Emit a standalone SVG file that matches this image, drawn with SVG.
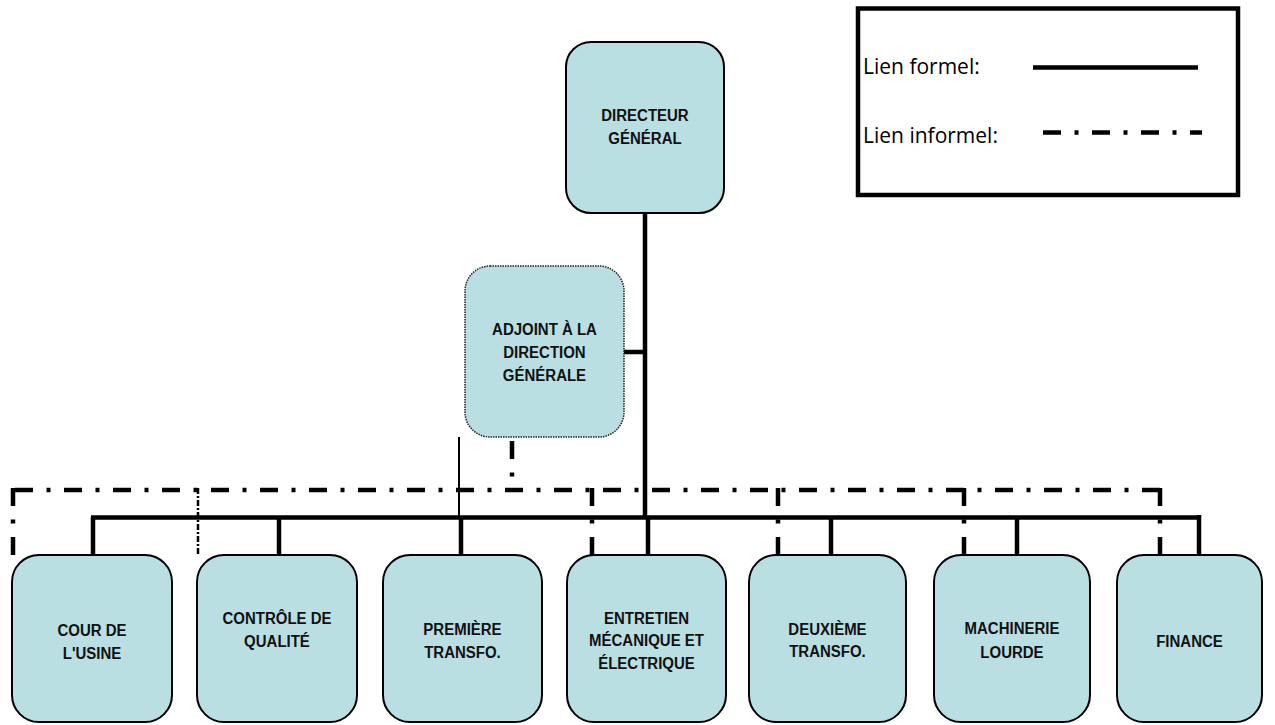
<svg xmlns="http://www.w3.org/2000/svg" width="1275" height="725" viewBox="0 0 1275 725">
<style>
.box{fill:#B9DFE3;stroke:#000;stroke-width:2}
.adj{fill:#B9DFE3;stroke:#222;stroke-width:1.5;stroke-dasharray:1.5 1}
.lbl{font-family:"Liberation Sans",Arial,sans-serif;font-weight:bold;font-size:15px;fill:#111;text-anchor:middle;transform-box:fill-box;transform-origin:center;transform:scaleY(1.12)}
.leg{font-family:"Open Sans","Liberation Sans",sans-serif;font-size:21px;fill:#000}
.formal{stroke:#000;stroke-width:4.5;fill:none}
.informal{stroke:#000;stroke-width:4.5;fill:none;stroke-dasharray:18 13.5 4 13.5}
.thin{stroke:#000;stroke-width:2;fill:none}
</style>
<rect width="1275" height="725" fill="#fff"/>
<g id="connectors">
  <line class="formal" x1="645" y1="213" x2="645" y2="519"/>
  <line class="formal" x1="624" y1="352" x2="645" y2="352"/>
  <line class="formal" x1="91" y1="517.5" x2="1201" y2="517.5"/>
  <line class="formal" x1="93" y1="517" x2="93" y2="555"/>
  <line class="formal" x1="279" y1="517" x2="279" y2="555"/>
  <line class="formal" x1="461" y1="517" x2="461" y2="555"/>
  <line class="formal" x1="648" y1="517" x2="648" y2="555"/>
  <line class="formal" x1="831" y1="517" x2="831" y2="555"/>
  <line class="formal" x1="1017" y1="517" x2="1017" y2="555"/>
  <line class="formal" x1="1199" y1="515" x2="1199" y2="555"/>
  <line class="thin" x1="459" y1="437" x2="459" y2="517"/>
  <line class="informal" x1="15" y1="490" x2="1160" y2="490"/>
  <line class="informal" x1="13" y1="488" x2="13" y2="555"/>
  <line class="informal" x1="512" y1="441" x2="512" y2="490"/>
  <line class="informal" x1="592" y1="488" x2="592" y2="555"/>
  <line class="informal" x1="778" y1="488" x2="778" y2="555"/>
  <line class="informal" x1="964" y1="488" x2="964" y2="555"/>
  <line class="informal" x1="1160" y1="488" x2="1160" y2="555"/>
  <line stroke="#000" stroke-width="2.5" stroke-dasharray="6 2 2 2" x1="198" y1="488" x2="198" y2="555"/>
</g>
<g id="legend">
  <rect x="858" y="8.5" width="380" height="186.5" fill="#fff" stroke="#000" stroke-width="4.5"/>
  <text class="leg" x="863" y="74">Lien formel:</text>
  <text class="leg" x="863" y="143">Lien informel:</text>
  <line class="formal" x1="1033" y1="67.5" x2="1198" y2="67.5"/>
  <line class="informal" x1="1043" y1="132.5" x2="1202" y2="132.5"/>
</g>
<g id="n-dg">
  <rect class="box" x="566" y="42" width="158" height="171" rx="25"/>
  <text class="lbl" x="645" y="120">DIRECTEUR</text>
  <text class="lbl" x="645" y="143">GÉNÉRAL</text>
</g>
<g id="n-adjoint">
  <rect class="adj" x="465" y="266" width="159" height="171" rx="25"/>
  <text class="lbl" x="544.5" y="334">ADJOINT À LA</text>
  <text class="lbl" x="544.5" y="357">DIRECTION</text>
  <text class="lbl" x="544.5" y="380">GÉNÉRALE</text>
</g>
<g id="n-cour">
  <rect class="box" x="12" y="555" width="160" height="167" rx="27"/>
  <text class="lbl" x="92" y="635">COUR DE</text>
  <text class="lbl" x="92" y="658">L'USINE</text>
</g>
<g id="n-controle">
  <rect class="box" x="197" y="555" width="160" height="167" rx="27"/>
  <text class="lbl" x="277" y="623">CONTRÔLE DE</text>
  <text class="lbl" x="277" y="646">QUALITÉ</text>
</g>
<g id="n-premiere">
  <rect class="box" x="383" y="555" width="159" height="167" rx="27"/>
  <text class="lbl" x="462.5" y="634">PREMIÈRE</text>
  <text class="lbl" x="462.5" y="657">TRANSFO.</text>
</g>
<g id="n-entretien">
  <rect class="box" x="567" y="555" width="159" height="167" rx="27"/>
  <text class="lbl" x="646.5" y="623">ENTRETIEN</text>
  <text class="lbl" x="646.5" y="645.5">MÉCANIQUE ET</text>
  <text class="lbl" x="646.5" y="668">ÉLECTRIQUE</text>
</g>
<g id="n-deuxieme">
  <rect class="box" x="749" y="555" width="157" height="167" rx="27"/>
  <text class="lbl" x="827.5" y="634">DEUXIÈME</text>
  <text class="lbl" x="827.5" y="656">TRANSFO.</text>
</g>
<g id="n-machinerie">
  <rect class="box" x="934" y="555" width="156" height="167" rx="27"/>
  <text class="lbl" x="1012" y="633">MACHINERIE</text>
  <text class="lbl" x="1012" y="657">LOURDE</text>
</g>
<g id="n-finance">
  <rect class="box" x="1117" y="555" width="145" height="167" rx="27"/>
  <text class="lbl" x="1189.5" y="646">FINANCE</text>
</g>
</svg>
